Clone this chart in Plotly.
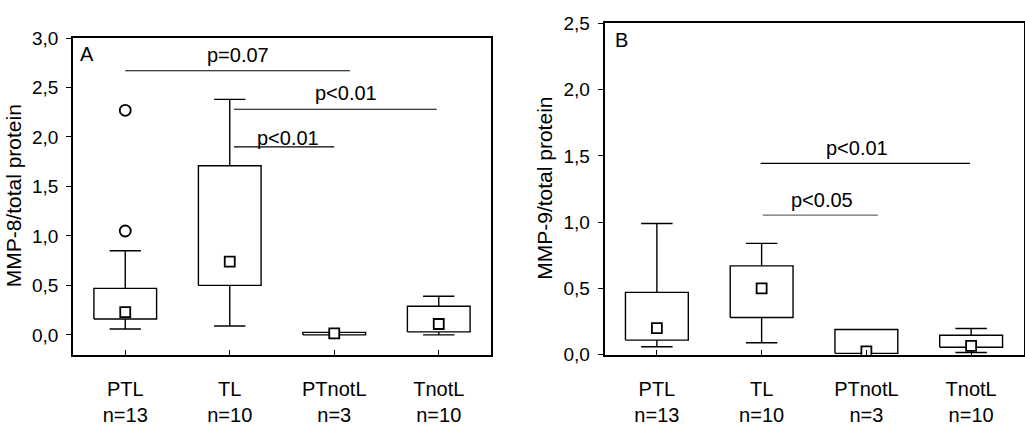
import plotly.graph_objects as go

# ---------------- data ----------------
categories = ["PTL<br>n=13", "TL<br>n=10", "PTnotL<br>n=3", "TnotL<br>n=10"]
cat_pos = [0, 1, 2, 3]

# Panel A: MMP-8/total protein
A_low = [0.06, 0.09, 0.0, 0.0]
A_q1 = [0.16, 0.50, 0.0, 0.03]
A_q3 = [0.47, 1.71, 0.025, 0.29]
A_high = [0.85, 2.38, 0.025, 0.39]
A_mid = [0.23, 0.74, 0.015, 0.11]
A_out_x = [0, 0]
A_out_y = [1.05, 2.27]
A_sig_x0 = [0.0, 1.04, 1.04]
A_sig_x1 = [2.15, 2.98, 2.0]
A_sig_y = [2.67, 2.28, 1.90]
A_sig_text = ["p=0.07", "p<0.01", "p<0.01"]
A_sig_tx = [1.08, 2.115, 1.56]
A_sig_ty = [2.83, 2.44, 1.99]

# Panel B: MMP-9/total protein
B_low = [0.06, 0.09, 0.01, 0.016]
B_q1 = [0.11, 0.28, 0.01, 0.056]
B_q3 = [0.47, 0.67, 0.19, 0.147]
B_high = [0.99, 0.84, 0.19, 0.197]
B_mid = [0.20, 0.50, 0.025, 0.066]
B_sig_x0 = [0.99, 1.01]
B_sig_x1 = [2.99, 2.11]
B_sig_y = [1.443, 1.053]
B_sig_text = ["p<0.01", "p<0.05"]
B_sig_tx = [1.91, 1.58]
B_sig_ty = [1.56, 1.17]
B_sig_color = ["black", "#6a6a6a"]

A_yticks = [0.0, 0.5, 1.0, 1.5, 2.0, 2.5, 3.0]
B_yticks = [0.0, 0.5, 1.0, 1.5, 2.0, 2.5]

FONT = "Liberation Sans, Arial, sans-serif"
BOX_W = 0.6
CAP_W = 0.3
LW = 1.4

fig = go.Figure()


def add_boxes(xa, ya, low, q1, q3, high, mid):
    xs, ys = [], []
    for p, lo, a, b, hi in zip(cat_pos, low, q1, q3, high):
        # box rectangle
        xs += [p - BOX_W / 2, p + BOX_W / 2, p + BOX_W / 2, p - BOX_W / 2, p - BOX_W / 2, None]
        ys += [a, a, b, b, a, None]
        if hi > b:
            xs += [p, p, None, p - CAP_W / 2, p + CAP_W / 2, None]
            ys += [b, hi, None, hi, hi, None]
        if lo < a:
            xs += [p, p, None, p - CAP_W / 2, p + CAP_W / 2, None]
            ys += [a, lo, None, lo, lo, None]
    fig.add_trace(go.Scatter(x=xs, y=ys, mode="lines", xaxis=xa, yaxis=ya,
                             line=dict(color="black", width=LW), showlegend=False,
                             hoverinfo="skip"))
    fig.add_trace(go.Scatter(x=cat_pos, y=mid, mode="markers", xaxis=xa, yaxis=ya,
                             marker=dict(symbol="square", size=10, color="white",
                                         line=dict(color="black", width=1.8)),
                             showlegend=False))


def add_sig(xa, ya, x0, x1, y, text, tx, ty, colors=None):
    for i in range(len(x0)):
        c = colors[i] if colors else "black"
        fig.add_trace(go.Scatter(x=[x0[i], x1[i]], y=[y[i], y[i]], mode="lines",
                                 xaxis=xa, yaxis=ya, line=dict(color=c, width=1.1),
                                 showlegend=False, hoverinfo="skip"))
        fig.add_annotation(x=tx[i], y=ty[i], xref=xa, yref=ya, text=text[i],
                           showarrow=False, xanchor="center", yanchor="middle",
                           font=dict(family=FONT, size=20, color="black"))


add_boxes("x", "y", A_low, A_q1, A_q3, A_high, A_mid)
fig.add_trace(go.Scatter(x=A_out_x, y=A_out_y, mode="markers", xaxis="x", yaxis="y",
                         marker=dict(symbol="circle-open", size=11, color="black",
                                     line=dict(color="black", width=1.8)),
                         showlegend=False))
add_sig("x", "y", A_sig_x0, A_sig_x1, A_sig_y, A_sig_text, A_sig_tx, A_sig_ty)

add_boxes("x2", "y2", B_low, B_q1, B_q3, B_high, B_mid)
add_sig("x2", "y2", B_sig_x0, B_sig_x1, B_sig_y, B_sig_text, B_sig_tx, B_sig_ty, B_sig_color)

W, H = 1025, 427

xaxis_common = dict(range=[-0.5, 3.5], tickvals=cat_pos, ticktext=categories,
                    ticks="inside", ticklen=5, tickwidth=1.2, tickcolor="black",
                    showline=True, mirror=True, linecolor="black", linewidth=1.6,
                    showgrid=False, zeroline=False, ticklabelstandoff=16,
                    tickfont=dict(family=FONT, size=20, color="black"))
yaxis_common = dict(ticks="outside", ticklen=5, tickwidth=1.2, tickcolor="black",
                    showline=True, mirror=True, linecolor="black", linewidth=1.6,
                    showgrid=False, zeroline=False, tickformat=".1f",
                    ticklabelstandoff=4,
                    tickfont=dict(family=FONT, size=19, color="black"))

fig.update_layout(
    width=W, height=H,
    margin=dict(l=0, r=0, t=0, b=0),
    paper_bgcolor="white", plot_bgcolor="white",
    separators=", ",
    xaxis=dict(domain=[73 / W, 491 / W], anchor="y", **xaxis_common),
    yaxis=dict(domain=[1 - 362.5 / H, 1 - 29.5 / H], anchor="x", range=[-0.2, 3.0],
               tickvals=A_yticks, **yaxis_common),
    xaxis2=dict(domain=[604.5 / W, 1023.5 / W], anchor="y2", **xaxis_common),
    yaxis2=dict(domain=[1 - 362.5 / H, 1 - 14 / H], anchor="x2", range=[0, 2.5],
                tickvals=B_yticks, **yaxis_common),
)

# panel letters and y titles
fig.add_annotation(x=87 / W, y=1 - 46.7 / H, xref="paper", yref="paper", text="A",
                   showarrow=False, xanchor="center", yanchor="middle",
                   font=dict(family=FONT, size=20, color="black"))
fig.add_annotation(x=621 / W, y=1 - 31.7 / H, xref="paper", yref="paper", text="B",
                   showarrow=False, xanchor="center", yanchor="middle",
                   font=dict(family=FONT, size=20, color="black"))
fig.add_annotation(x=13 / W, y=1 - 196 / H, xref="paper", yref="paper",
                   text="MMP-8/total protein", textangle=-90, showarrow=False,
                   xanchor="center", yanchor="middle",
                   font=dict(family=FONT, size=21, color="black"))
fig.add_annotation(x=545 / W, y=1 - 188 / H, xref="paper", yref="paper",
                   text="MMP-9/total protein", textangle=-90, showarrow=False,
                   xanchor="center", yanchor="middle",
                   font=dict(family=FONT, size=21, color="black"))

fig.write_html("out.html")
